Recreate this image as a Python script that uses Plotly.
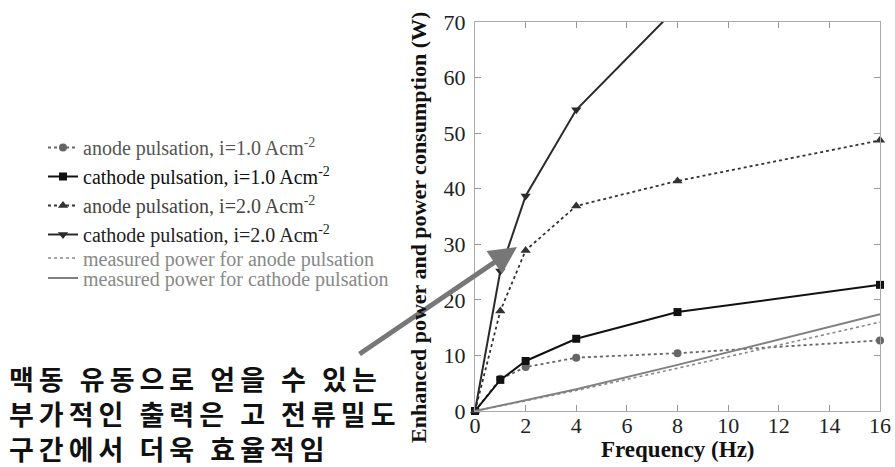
import plotly.graph_objects as go

freq = [0, 1, 2, 4, 8, 16]
anode_1 = [0, 5.8, 7.9, 9.6, 10.4, 12.7]
cathode_1 = [0, 5.6, 9.0, 13.0, 17.8, 22.7]
anode_2 = [0, 18.0, 28.9, 36.9, 41.4, 48.7]
cathode_2 = [0, 25.2, 38.7, 54.2, 72.7, 95.0]
measured_anode = [0, 0.95, 1.9, 3.7, 7.7, 16.0]
measured_cathode = [0, 1.0, 2.0, 3.9, 8.3, 17.4]

x_ticks = [0, 2, 4, 6, 8, 10, 12, 14, 16]
y_ticks = [0, 10, 20, 30, 40, 50, 60, 70]

x_title = "Frequency (Hz)"
y_title = "Enhanced power and power consumption (W)"
korean_lines = ["맥동 유동으로 얻을 수 있는", "부가적인 출력은 고 전류밀도", "구간에서 더욱 효율적임"]

SERIF = "Liberation Serif"
W, H = 895, 467
ML, MR, MT, MB = 475, 15, 22, 56
PW, PH = W - ML - MR, H - MT - MB


def px_to_paper_x(px):
    return (px - ML) / PW


def px_to_paper_y(py):
    return (H - MB - py) / PH


fig = go.Figure()

fig.add_trace(go.Scatter(
    x=freq, y=anode_1, mode="lines+markers",
    name='<span style="color:#555">anode pulsation, i=1.0 Acm<sup>-2</sup></span>',
    line=dict(color="#666666", width=1.8, dash="dot"),
    marker=dict(symbol="circle", size=8, color="#666666"),
    cliponaxis=False, legend="legend"))
fig.add_trace(go.Scatter(
    x=freq, y=cathode_1, mode="lines+markers",
    name='<span style="color:#111">cathode pulsation, i=1.0 Acm<sup>-2</sup></span>',
    line=dict(color="#111111", width=2),
    marker=dict(symbol="square", size=8, color="#111111"),
    cliponaxis=False, legend="legend"))
fig.add_trace(go.Scatter(
    x=freq, y=anode_2, mode="lines+markers",
    name='<span style="color:#444">anode pulsation, i=2.0 Acm<sup>-2</sup></span>',
    line=dict(color="#333333", width=1.8, dash="dot"),
    marker=dict(symbol="triangle-up", size=9, color="#333333"),
    cliponaxis=False, legend="legend"))
fig.add_trace(go.Scatter(
    x=freq, y=cathode_2, mode="lines+markers",
    name='<span style="color:#222">cathode pulsation, i=2.0 Acm<sup>-2</sup></span>',
    line=dict(color="#2a2a2a", width=2),
    marker=dict(symbol="triangle-down", size=9, color="#2a2a2a"),
    cliponaxis=True, legend="legend"))
fig.add_trace(go.Scatter(
    x=freq, y=measured_anode, mode="lines",
    name='<span style="color:#888">measured power for anode pulsation</span>',
    line=dict(color="#888888", width=1.6, dash="dot"),
    legend="legend2"))
fig.add_trace(go.Scatter(
    x=freq, y=measured_cathode, mode="lines",
    name='<span style="color:#888">measured power for cathode pulsation</span>',
    line=dict(color="#808080", width=2),
    legend="legend3"))

# arrow
fig.add_annotation(
    x=px_to_paper_x(517), y=px_to_paper_y(247), xref="paper", yref="paper",
    ax=-159, ay=108, axref="pixel", ayref="pixel",
    showarrow=True, arrowhead=2, arrowsize=1.1, arrowwidth=5,
    arrowcolor="#777777", text="")

# axis titles
fig.add_annotation(
    x=px_to_paper_x(678), y=px_to_paper_y(449), xref="paper", yref="paper",
    xanchor="center", yanchor="middle", showarrow=False,
    text="<b>" + x_title + "</b>",
    font=dict(family=SERIF, size=23, color="#111111"))
fig.add_annotation(
    x=px_to_paper_x(418), y=px_to_paper_y(228), xref="paper", yref="paper",
    xanchor="center", yanchor="middle", showarrow=False, textangle=-90,
    text="<b>" + y_title + "</b>",
    font=dict(family=SERIF, size=22, color="#111111"))

# Korean text block
fig.add_annotation(
    x=px_to_paper_x(7), y=px_to_paper_y(413), xref="paper", yref="paper",
    xanchor="left", yanchor="middle", align="left", showarrow=False,
    text='<span style="letter-spacing:5px"><b>' + "<br>".join(korean_lines) + "</b></span>",
    font=dict(family="Noto Sans CJK KR", size=27, color="#111111", weight=900))

leg_common = dict(xref="container", yref="container", xanchor="left",
                  bgcolor="rgba(0,0,0,0)", font=dict(family=SERIF, size=20),
                  tracegroupgap=0, itemwidth=30)

fig.update_layout(
    width=W, height=H,
    margin=dict(l=ML, r=MR, t=MT, b=MB, autoexpand=False),
    plot_bgcolor="white", paper_bgcolor="white",
    font=dict(family=SERIF, size=18, color="#222222"),
    legend=dict(x=43 / W, y=1 - 128 / H, yanchor="top", **leg_common),
    legend2=dict(x=43 / W, y=1 - 258 / H, yanchor="middle", **leg_common),
    legend3=dict(x=43 / W, y=1 - 278 / H, yanchor="middle", **leg_common),
    showlegend=True,
)

fig.update_xaxes(
    range=[0, 16], tickvals=x_ticks, ticktext=[str(v) for v in x_ticks],
    ticks="inside", ticklen=6, tickcolor="#999999",
    showline=True, linecolor="#aaaaaa", linewidth=1, mirror="allticks",
    showgrid=False, zeroline=False,
    tickfont=dict(family=SERIF, size=22, color="#222222"),
    ticklabelstandoff=-5,
)
fig.update_yaxes(
    range=[0, 70], tickvals=y_ticks, ticktext=[str(v) for v in y_ticks],
    ticks="inside", ticklen=6, tickcolor="#999999",
    showline=True, linecolor="#aaaaaa", linewidth=1, mirror="allticks",
    showgrid=False, zeroline=False,
    tickfont=dict(family=SERIF, size=22, color="#222222"),
    ticklabelstandoff=4,
)

fig.write_html("out.html", config={"displayModeBar": False},
               post_script="document.body.style.margin='0px';")
